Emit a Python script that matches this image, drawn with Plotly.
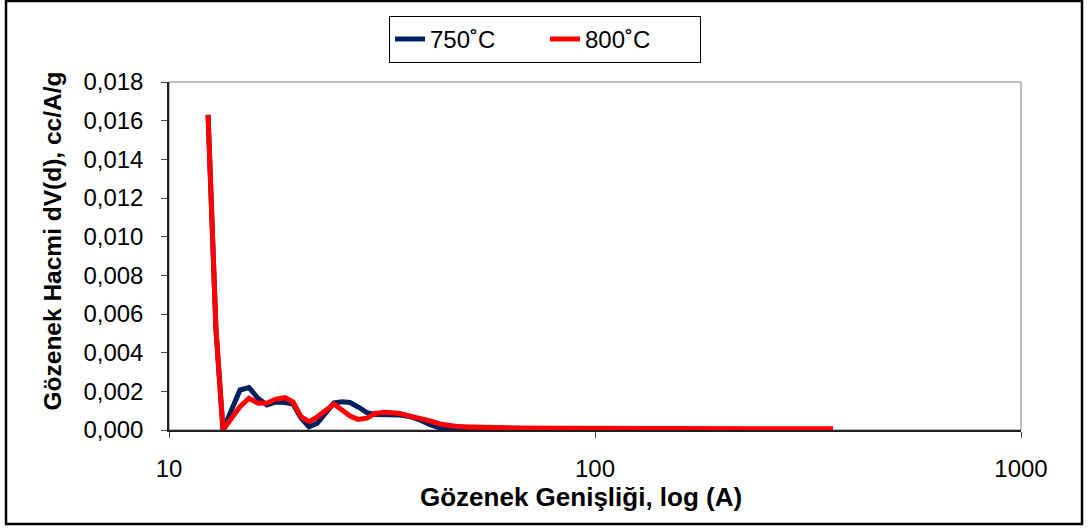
import plotly.graph_objects as go

# Pore width (Angstrom) and differential pore volume dV(d) (cc/A/g)
pore_width = [12.35, 12.89, 13.39, 13.98, 14.68, 15.41, 16.18, 16.98, 17.83, 18.72,
              19.55, 20.41, 21.31, 22.26, 23.24, 24.40, 25.48, 26.60, 27.78, 29.16,
              30.45, 31.97, 33.38, 34.85, 36.79, 38.83, 41.00, 43.27, 46.93, 50.89,
              56.69, 66.67, 82.76, 102.7, 134.6, 176.4, 231.1, 302.9, 362.0]

dv_750 = [0.0163, 0.0052, 0.0, 0.00098, 0.00207, 0.00219, 0.00164, 0.00129, 0.00145, 0.00142,
          0.00134, 0.00062, 0.00017, 0.00034, 0.00083, 0.00140, 0.00146, 0.00142, 0.00119, 0.00090,
          0.00080, 0.00078, 0.00078, 0.00078, 0.00069, 0.00052, 0.00028, 0.00010, 0.00008, 0.00005,
          0.00004, 0.00003, 0.00003, 0.00002, 0.00002, 0.00002, 0.00002, 0.00002, 0.00002]

dv_800 = [0.0163, 0.0052, 0.0, 0.00062, 0.00121, 0.00164, 0.00138, 0.00140, 0.00160, 0.00167,
          0.00145, 0.00069, 0.00043, 0.00067, 0.00098, 0.00134, 0.00103, 0.00072, 0.00055, 0.00061,
          0.00086, 0.00092, 0.00089, 0.00085, 0.00072, 0.00061, 0.00047, 0.00031, 0.00019, 0.00016,
          0.00013, 0.00010, 0.00009, 0.00008, 0.00007, 0.00007, 0.00006, 0.00006, 0.00006]

series_names = ["750˚C", "800˚C"]
series_colors = ["#002060", "#FF0000"]

x_ticks = [10, 100, 1000]
y_ticks = [0.000, 0.002, 0.004, 0.006, 0.008, 0.010, 0.012, 0.014, 0.016, 0.018]

x_title = "Gözenek Genişliği, log (A)"
y_title = "Gözenek Hacmi dV(d), cc/A/g"

FONT = "Liberation Sans, Arial, sans-serif"

fig = go.Figure()
for name, ys, color in zip(series_names, [dv_750, dv_800], series_colors):
    fig.add_trace(go.Scatter(
        x=pore_width, y=ys, mode="lines", name=name,
        line=dict(color=color, width=5),
    ))

fig.update_layout(
    width=1089, height=531,
    margin=dict(l=169, r=68, t=82, b=101, autoexpand=False),
    paper_bgcolor="white", plot_bgcolor="white",
    separators=",.",
    font=dict(family=FONT, size=24, color="black"),
    showlegend=True,
    legend=dict(
        orientation="h", x=0.4413, xanchor="center", y=1.19, yanchor="top",
        bordercolor="black", borderwidth=1, bgcolor="white",
        font=dict(size=24), entrywidth=110, itemwidth=30,
    ),
    xaxis=dict(
        type="log", range=[1, 3], tickvals=x_ticks, ticktext=[str(v) for v in x_ticks],
        ticks="outside", ticklen=6, tickcolor="#404040", showgrid=False, zeroline=False,
        showline=True, linecolor="#202020", linewidth=1.5, automargin=False,
        tickfont=dict(size=24), ticklabelstandoff=10,
    ),
    yaxis=dict(
        range=[0, 0.018], tickvals=y_ticks, tickformat=".3f",
        ticks="outside", ticklen=6, tickcolor="#404040", showgrid=False, zeroline=False,
        showline=True, linecolor="#202020", linewidth=1.5, automargin=False,
        tickfont=dict(size=24), ticklabelstandoff=13,
    ),
    annotations=[
        dict(text=f"<b>{x_title}</b>", xref="paper", yref="paper", x=0.4836, y=-0.1925,
             xanchor="center", yanchor="middle", showarrow=False, font=dict(size=26)),
        dict(text=f"<b>{y_title}</b>", xref="paper", yref="paper", x=-0.1373, y=0.5417,
             xanchor="center", yanchor="middle", showarrow=False, textangle=-90,
             font=dict(size=24.5)),
    ],
    shapes=[
        # plot-area border (top and right sides show in grey)
        dict(type="rect", xref="paper", yref="paper", x0=0, x1=1, y0=0, y1=1,
             line=dict(color="#808080", width=1), layer="below"),
        # outer chart frame
        dict(type="rect", xref="paper", yref="paper",
             x0=-0.1913, x1=1.0716, y0=-0.2701, y1=1.2328,
             line=dict(color="black", width=2.5)),
    ],
)

fig.write_html("out.html")
